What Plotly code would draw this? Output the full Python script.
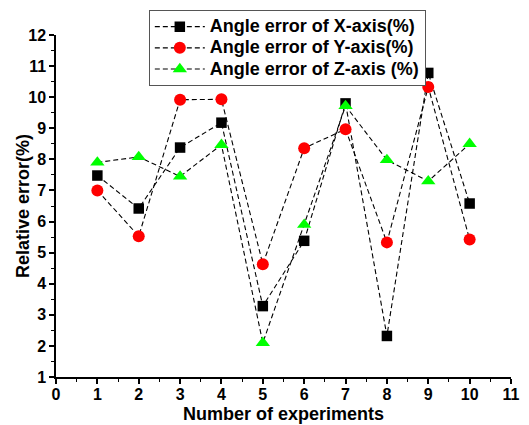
import plotly.graph_objects as go

experiments = [1, 2, 3, 4, 5, 6, 7, 8, 9, 10]
x_err = [7.48, 6.42, 8.38, 9.18, 3.28, 5.38, 9.80, 2.32, 10.78, 6.58]
y_err = [7.00, 5.53, 9.92, 9.93, 4.63, 8.36, 8.97, 5.33, 10.33, 5.42]
z_err = [7.90, 8.08, 7.45, 8.47, 2.10, 5.90, 9.72, 7.98, 7.30, 8.50]
names = ["Angle error of X-axis(%)", "Angle error of Y-axis(%)", "Angle error of Z-axis (%)"]
x_title = "Number of experiments"
y_title = "Relative error(%)"

FONT = "Liberation Sans, Arial, sans-serif"

fig = go.Figure()
specs = [
    (x_err, "square", "#000000", 10.5),
    (y_err, "circle", "#FF0000", 12),
    (z_err, "triangle-up", "#00FF00", 12.5),
]
for (data, sym, col, sz), nm in zip(specs, names):
    fig.add_trace(go.Scatter(
        x=experiments, y=data,
        name='<span style="font-size:18px">' + nm + '</span>',
        mode="lines+markers",
        line=dict(color="black", width=1.1, dash="5px,3px"),
        marker=dict(symbol=sym, color=col, size=sz, line=dict(width=0)),
    ))

axis_common = dict(
    showline=True, linecolor="black", linewidth=1.5, mirror=False,
    ticks="outside", ticklen=5, tickwidth=1.5, tickcolor="black",
    showgrid=False, zeroline=False, automargin=False,
    tickfont=dict(family=FONT, size=16, color="black", weight="bold"),
    minor=dict(ticks="outside", ticklen=3, tickwidth=1, tickcolor="black", dtick=0.5),
)

# page has an ~8px body margin, so the figure is sized/margined to compensate
fig.update_layout(
    width=521, height=417,
    margin=dict(l=48, r=18, t=27, b=48, autoexpand=False),
    paper_bgcolor="white", plot_bgcolor="white",
    xaxis=dict(range=[0, 11], dtick=1, tick0=0, ticklabelstandoff=-3, **axis_common),
    yaxis=dict(range=[1, 12], dtick=1, tick0=0, **axis_common),
    legend=dict(x=0.204, y=1.073, xanchor="left", yanchor="top",
                bgcolor="white", bordercolor="#555555", borderwidth=1,
                font=dict(family=FONT, size=14, color="black", weight="bold"),
                tracegroupgap=0, itemwidth=50),
    showlegend=True,
    annotations=[
        dict(text=x_title, xref="paper", yref="paper", x=0.5, y=-0.108,
             xanchor="center", yanchor="middle", showarrow=False,
             font=dict(family=FONT, size=18, color="black", weight="bold")),
        dict(text=y_title, xref="paper", yref="paper", x=-0.0725, y=0.5,
             xanchor="center", yanchor="middle", showarrow=False, textangle=-90,
             font=dict(family=FONT, size=18, color="black", weight="bold")),
    ],
)

fig.write_html("out.html")
